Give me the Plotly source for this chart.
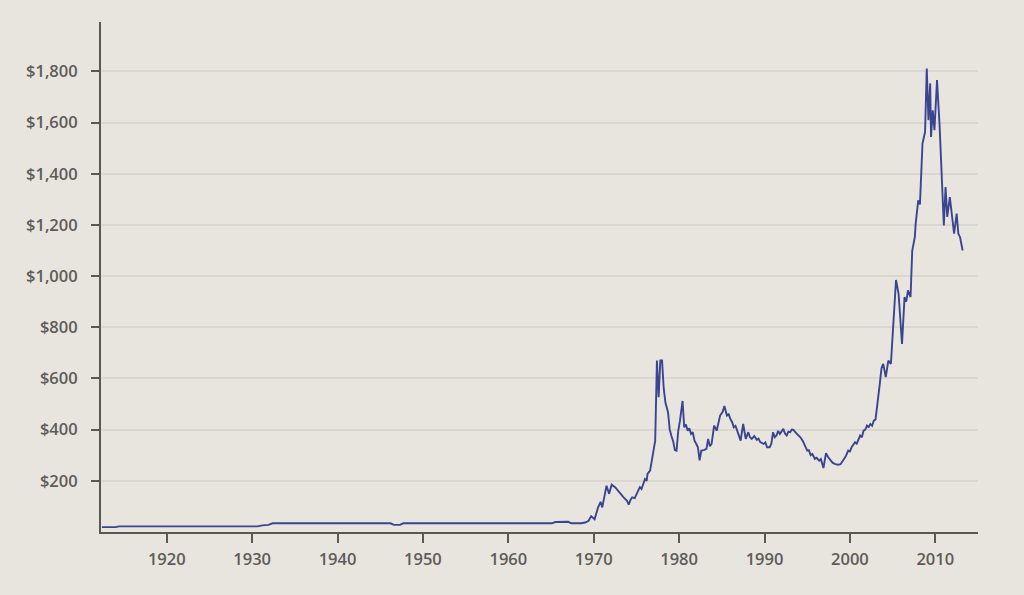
import plotly.graph_objects as go

years = [1912.4, 1914.0, 1914.4, 1930.6, 1931.2, 1931.9, 1932.4, 1946.2, 1946.6, 1947.3, 1947.7,
         1965.1, 1965.5, 1966.6, 1967.0, 1967.4, 1968.5, 1969.0, 1969.4, 1969.7, 1970.1, 1970.5,
         1970.8, 1971.0, 1971.3, 1971.5, 1971.8, 1972.1, 1972.5, 1972.8, 1973.1, 1973.5, 1973.9,
         1974.1, 1974.3, 1974.5, 1974.8, 1975.0, 1975.4, 1975.6, 1975.8, 1976.0, 1976.2, 1976.3,
         1976.6, 1976.9, 1977.2, 1977.4, 1977.6, 1977.8, 1978.0, 1978.2, 1978.4, 1978.7, 1978.9,
         1979.1, 1979.3, 1979.5, 1979.7, 1979.9, 1980.1, 1980.4, 1980.6, 1980.8, 1981.0, 1981.2,
         1981.4, 1981.6, 1981.8, 1982.0, 1982.2, 1982.4, 1982.6, 1982.9, 1983.2, 1983.4, 1983.6,
         1983.8, 1984.1, 1984.4, 1984.6, 1984.8, 1985.1, 1985.3, 1985.6, 1985.8, 1986.0, 1986.2,
         1986.4, 1986.6, 1986.8, 1987.0, 1987.2, 1987.5, 1987.8, 1988.1, 1988.3, 1988.5, 1988.8,
         1989.1, 1989.3, 1989.5, 1989.9, 1990.1, 1990.3, 1990.6, 1990.8, 1991.0, 1991.2, 1991.4,
         1991.6, 1991.8, 1992.0, 1992.2, 1992.4, 1992.6, 1992.8, 1993.0, 1993.2, 1993.4, 1993.6,
         1993.8, 1994.0, 1994.2, 1994.5, 1994.8, 1995.0, 1995.2, 1995.4, 1995.6, 1995.9, 1996.1,
         1996.4, 1996.6, 1996.9, 1997.2, 1997.4, 1997.7, 1998.0, 1998.3, 1998.6, 1998.9, 1999.2,
         1999.5, 1999.8, 2000.0, 2000.2, 2000.4, 2000.6, 2000.8, 2001.0, 2001.2, 2001.4, 2001.6,
         2001.8, 2002.0, 2002.2, 2002.4, 2002.6, 2002.8, 2003.0, 2003.2, 2003.5, 2003.7, 2003.9,
         2004.2, 2004.5, 2004.8, 2005.1, 2005.4, 2005.7, 2005.9, 2006.1, 2006.4, 2006.6, 2006.8,
         2007.1, 2007.3, 2007.6, 2007.7, 2008.0, 2008.2, 2008.3, 2008.5, 2008.8, 2009.0, 2009.2,
         2009.4, 2009.5, 2009.7, 2009.9, 2010.2, 2010.5, 2010.8, 2011.0, 2011.2, 2011.4, 2011.7,
         2011.9, 2012.2, 2012.5, 2012.7, 2012.9, 2013.2]

prices = [19, 19, 22, 22, 26, 28, 34, 34, 28, 28, 34,
          34, 39, 41, 40, 34, 34, 37, 44, 62, 50, 95,
          118, 96, 150, 181, 149, 185, 175, 162, 149, 135, 122,
          107, 125, 135, 132, 146, 175, 168, 188, 207, 200, 227,
          240, 298, 357, 670, 527, 670, 670, 560, 505, 468, 400,
          375, 355, 320, 318, 396, 435, 512, 409, 420, 396, 405,
          383, 390, 357, 345, 331, 280, 318, 320, 325, 364, 335,
          344, 416, 396, 430, 455, 470, 492, 455, 460, 442, 430,
          409, 415, 396, 380, 357, 422, 364, 390, 370, 364, 375,
          360, 365, 351, 344, 350, 331, 331, 345, 390, 370, 377,
          395, 383, 393, 403, 385, 377, 392, 390, 400, 399, 390,
          383, 378, 370, 355, 331, 318, 320, 300, 305, 286, 290,
          279, 285, 250, 308, 295, 282, 270, 265, 263, 265, 279,
          295, 318, 315, 331, 340, 351, 345, 365, 377, 370, 396,
          400, 416, 410, 422, 415, 435, 440, 487, 579, 640, 657,
          605, 670, 657, 820, 985, 931, 840, 735, 918, 900, 944,
          918, 1100, 1152, 1205, 1296, 1280, 1374, 1518, 1563, 1811, 1609,
          1753, 1544, 1648, 1570, 1766, 1590, 1362, 1198, 1348, 1231, 1309,
          1257, 1166, 1244, 1166, 1152, 1100]

x_ticks = [1920, 1930, 1940, 1950, 1960, 1970, 1980, 1990, 2000, 2010]
y_ticks = [200, 400, 600, 800, 1000, 1200, 1400, 1600, 1800]
y_labels = ["$200", "$400", "$600", "$800", "$1,000", "$1,200", "$1,400", "$1,600", "$1,800"]

BG = "#e8e5df"
AXIS = "#5a5853"
TXT = "#5e5c58"

fig = go.Figure()
fig.add_trace(go.Scatter(x=years, y=prices, mode="lines",
                         line=dict(color="#3a4592", width=1.9),
                         hoverinfo="skip", showlegend=False))

tickfont = dict(family="Open Sans, Noto Sans, sans-serif", size=16.5, color=TXT, weight=600)

fig.update_layout(
    width=1024, height=595,
    paper_bgcolor=BG, plot_bgcolor=BG,
    margin=dict(l=101, r=46, t=22, b=63),
    showlegend=False,
)
fig.update_xaxes(
    range=[1912.3, 2015.0], tickvals=x_ticks, ticktext=[str(v) for v in x_ticks],
    showgrid=False, zeroline=False,
    showline=True, linecolor=AXIS, linewidth=2,
    ticks="outside", ticklen=9, tickwidth=2, tickcolor=AXIS,
    tickfont=tickfont, ticklabelstandoff=2,
)
fig.update_yaxes(
    range=[0, 1993], tickvals=y_ticks, ticktext=y_labels,
    showgrid=True, gridcolor="#dbd7d0", gridwidth=1.5, zeroline=False,
    showline=True, linecolor=AXIS, linewidth=2,
    ticks="outside", ticklen=8, tickwidth=2, tickcolor=AXIS,
    tickfont=tickfont, ticklabelstandoff=10,
)

fig.write_html(
    "out.html",
    config={"displayModeBar": False},
    post_script="document.body.style.margin='0';document.body.style.background='#e8e5df';",
)
